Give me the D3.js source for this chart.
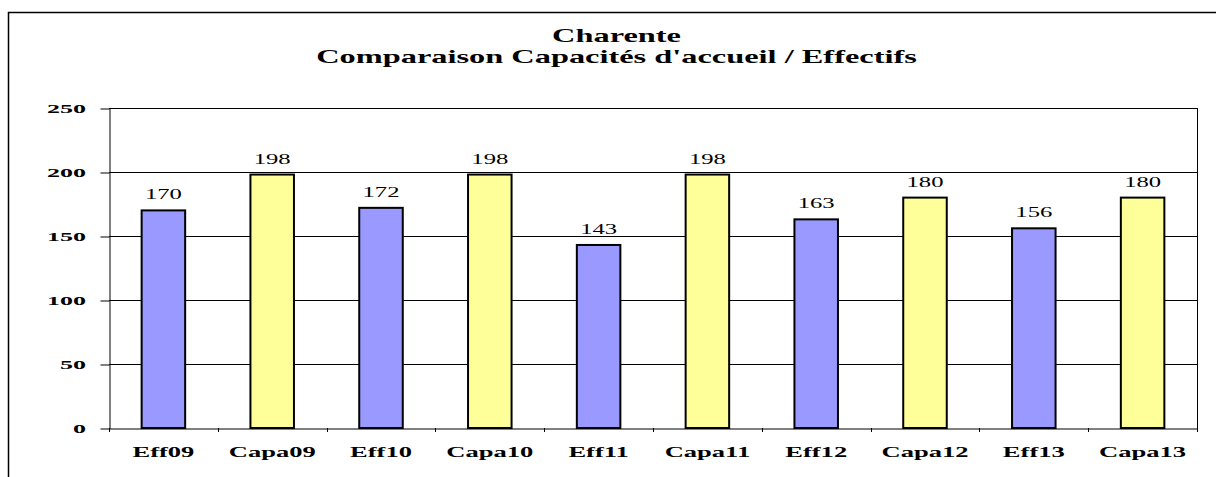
<!DOCTYPE html>
<html lang="fr">
<head>
<meta charset="utf-8">
<title>Charente - Comparaison Capacités d'accueil / Effectifs</title>
<script src="https://d3js.org/d3.v7.min.js"></script>
<style>
  body { margin: 0; background: #fff; }
  svg text { font-family: "Liberation Serif", Tinos, "Times New Roman", Times, "DejaVu Serif", serif; }
</style>
</head>
<body>
<div id="chart"></div>
<script>
// Data
var categories = ["Eff09", "Capa09", "Eff10", "Capa10", "Eff11", "Capa11", "Eff12", "Capa12", "Eff13", "Capa13"];
var values = [170, 198, 172, 198, 143, 198, 163, 180, 156, 180];
var kinds = ["eff", "capa", "eff", "capa", "eff", "capa", "eff", "capa", "eff", "capa"];
var yTicks = [0, 50, 100, 150, 200, 250];
var titleLines = ["Charente", "Comparaison Capacités d'accueil / Effectifs"];

// Setup
var width = 1216, height = 477;
var plot = { left: 109, right: 1197, top: 108, bottom: 428 };
var colours = { eff: "#9999ff", capa: "#ffff99" };
var serif = "'Liberation Serif', Tinos, 'Times New Roman', Times, 'DejaVu Serif', serif";

var svg = d3.select("#chart").append("svg")
    .attr("width", width)
    .attr("height", height)
    .style("display", "block");

// outer chart frame (only top and left visible)
svg.append("path")
    .attr("d", "M8.5," + height + "V12.5H" + width)
    .attr("fill", "none")
    .attr("stroke", "#000")
    .attr("stroke-width", 1.5);

var x = d3.scaleBand()
    .domain(categories)
    .range([plot.left, plot.right])
    .paddingInner(0.6)
    .paddingOuter(0.3);

var y = d3.scaleLinear()
    .domain([0, 250])
    .range([plot.bottom, plot.top]);

// helper: text stretched horizontally like the original
function stretched(sel, sx) {
    sel.attr("font-family", serif).each(function() {
        var t = d3.select(this);
        var px = +t.attr("data-x"), py = +t.attr("data-y");
        t.attr("transform", "translate(" + px + "," + py + ") scale(" + sx + ",1)");
    });
}

// gridlines
svg.append("g")
    .selectAll("line")
    .data(yTicks.filter(function(d) { return d > 0; }))
    .join("line")
    .attr("x1", plot.left)
    .attr("x2", plot.right)
    .attr("y1", function(d) { return Math.round(y(d)) + 0.5; })
    .attr("y2", function(d) { return Math.round(y(d)) + 0.5; })
    .attr("stroke", "#000")
    .attr("stroke-width", 1);

// right border of plot area
svg.append("line")
    .attr("x1", plot.right + 0.5).attr("x2", plot.right + 0.5)
    .attr("y1", plot.top).attr("y2", plot.bottom)
    .attr("stroke", "#000");

// y axis
var yAxis = svg.append("g")
    .attr("transform", "translate(" + (plot.left + 0.5) + ",0.5)")
    .call(d3.axisLeft(y).tickValues(yTicks).tickSize(9).tickSizeOuter(0).tickFormat(""));
yAxis.select(".domain").attr("stroke", "#000");
yAxis.selectAll(".tick line").attr("stroke", "#000");

svg.append("g")
    .selectAll("text")
    .data(yTicks)
    .join("text")
    .attr("data-x", 86)
    .attr("data-y", function(d) { return y(d) + 5; })
    .attr("text-anchor", "end")
    .attr("font-size", 13)
    .attr("font-weight", "bold")
    .text(function(d) { return d; })
    .call(stretched, 2.0);

// x axis
var xAxis = svg.append("g")
    .attr("transform", "translate(0," + (plot.bottom + 0.5) + ")")
    .call(d3.axisBottom(x).tickSize(0).tickFormat(""));
xAxis.select(".domain").attr("stroke", "#000");
xAxis.selectAll(".tick").remove();

var boundaries = categories.map(function(c) { return x(c) - x.step() * x.paddingInner() / 2; });
boundaries.push(plot.right);
boundaries[0] = plot.left;
svg.append("g")
    .selectAll("line")
    .data(boundaries)
    .join("line")
    .attr("x1", function(d) { return Math.round(d) + 0.5; })
    .attr("x2", function(d) { return Math.round(d) + 0.5; })
    .attr("y1", plot.bottom)
    .attr("y2", plot.bottom + 4)
    .attr("stroke", "#000");

svg.append("g")
    .selectAll("text")
    .data(categories)
    .join("text")
    .attr("data-x", function(d) { return x(d) + x.bandwidth() / 2; })
    .attr("data-y", 457)
    .attr("text-anchor", "middle")
    .attr("font-size", 15)
    .attr("font-weight", "bold")
    .text(function(d) { return d; })
    .call(stretched, 1.77);

// bars
svg.append("g")
    .selectAll("rect")
    .data(categories)
    .join("rect")
    .attr("x", function(d) { return x(d); })
    .attr("y", function(d, i) { return y(values[i]); })
    .attr("width", x.bandwidth())
    .attr("height", function(d, i) { return y(0) - y(values[i]); })
    .attr("fill", function(d, i) { return colours[kinds[i]]; })
    .attr("stroke", "#000")
    .attr("stroke-width", 2);

// value labels
svg.append("g")
    .selectAll("text")
    .data(categories)
    .join("text")
    .attr("data-x", function(d) { return x(d) + x.bandwidth() / 2; })
    .attr("data-y", function(d, i) { return y(values[i]) - 11; })
    .attr("text-anchor", "middle")
    .attr("font-size", 14)
    .text(function(d, i) { return values[i]; })
    .call(stretched, 1.76);

// title
svg.append("g")
    .selectAll("text")
    .data(titleLines)
    .join("text")
    .attr("data-x", 616.5)
    .attr("data-y", function(d, i) { return 42 + i * 21; })
    .attr("text-anchor", "middle")
    .attr("font-size", 18)
    .attr("font-weight", "bold")
    .text(function(d) { return d; })
    .call(stretched, 1.8);
</script>
</body>
</html>
